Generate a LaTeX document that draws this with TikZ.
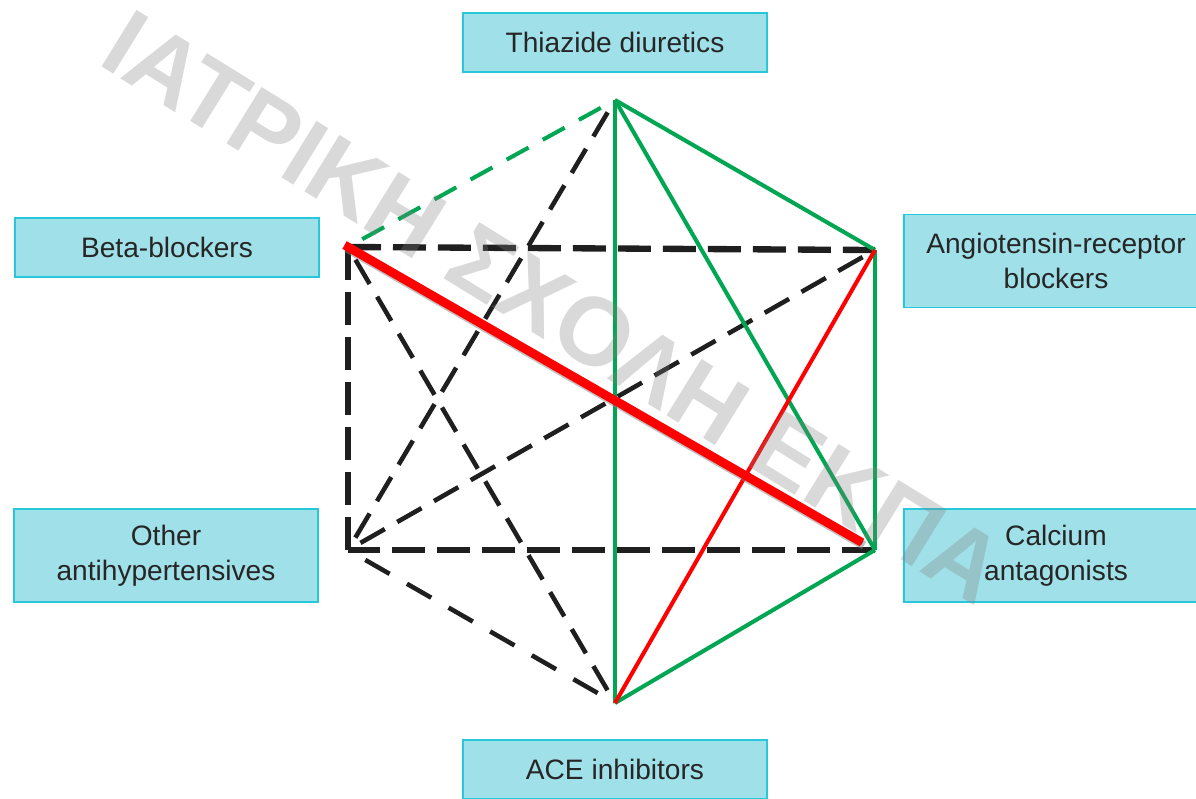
\documentclass[tikz,border=0pt]{standalone}
\usepackage{fontspec}
\setmainfont{Liberation Sans}
\usetikzlibrary{arrows.meta, calc, decorations}

\definecolor{boxfill}{RGB}{160,224,232}
\definecolor{boxline}{RGB}{40,200,220}
\definecolor{okgreen}{RGB}{0,166,81}
\definecolor{badred}{RGB}{255,0,0}

\begin{document}
\begin{tikzpicture}[x=0.02cm, y=-0.02cm,
        drug/.style={draw=boxline, line width=1pt, fill=boxfill, minimum width=6.08cm, minimum height=1.18cm,
            inner sep=0pt, align=center, text=black!85, font=\fontsize{16}{20}\selectfont},
        twoline/.style={drug, minimum height=1.86cm},
        maybe/.style={black!88, line width=2.6pt, dash pattern=on 0.56cm off 0.28cm, dash expand off},
        maybeheavy/.style={maybe, line width=3.6pt, dash pattern=on 0.66cm off 0.24cm},
        good/.style={okgreen, line width=2.3pt},
        gooddash/.style={good, dash pattern=on 0.5cm off 0.3cm, dash expand off},
        bad/.style={badred, line width=2.3pt},
        stamp/.style={text=black!50, opacity=.3, inner sep=0pt, font=\fontsize{55}{60}\selectfont\bfseries}]
    \useasboundingbox (0,0) rectangle (1196,798);

    % drug classes
    \node[drug] (thzbox) at (615,42.5) {Thiazide diuretics};
    \node[drug] (bbbox) at (167,247.5) {Beta-blockers};
    \node[twoline] (arbbox) at (1056,261) {Angiotensin-receptor\\blockers};
    \node[twoline] (othbox) at (166,555.5) {Other\\antihypertensives};
    \node[twoline] (ccabox) at (1056,555.5) {Calcium\\antagonists};
    \node[drug] (acebox) at (615,769.5) {ACE inhibitors};

    % corners of the hexagon
    \coordinate (thz) at (615,100);
    \coordinate (arb) at (875,250);
    \coordinate (cca) at (875,550);
    \coordinate (ace) at (615,703);
    \coordinate (oth) at (348,550);
    \coordinate (bb) at (348,247);

    % possible combinations
    \draw[maybeheavy] (bb) -- (arb);
    \draw[maybeheavy] (bb) -- (oth);
    \draw[maybeheavy] (cca) -- (oth);
    \foreach \a/\b in {bb/ace, bb/cca, thz/oth, arb/oth, ace/oth}
        \draw[maybe] (\a) -- (\b);

    % preferred ones
    \draw[gooddash] (bb) -- (thz);
    \foreach \a/\b in {thz/arb, thz/cca, thz/ace, arb/cca, cca/ace}
        \draw[good] (\a) -- (\b);

    % not recommended
    \draw[bad] (arb) -- (ace);
    \draw[black!50, opacity=.5, line width=5pt, shorten <=-0.08cm, shorten >=0.3cm,
        transform canvas={shift={(0.04cm,-0.06cm)}}] (bb) -- (cca);
    \draw[bad, line width=5pt, shorten <=-0.08cm, shorten >=0.3cm] (bb) -- (cca);

    \node[stamp, rotate=-31.7] (wm) at (554,307) {ΙΑΤΡΙΚΗ ΣΧΟΛΗ ΕΚΠΑ};
\end{tikzpicture}
\end{document}
